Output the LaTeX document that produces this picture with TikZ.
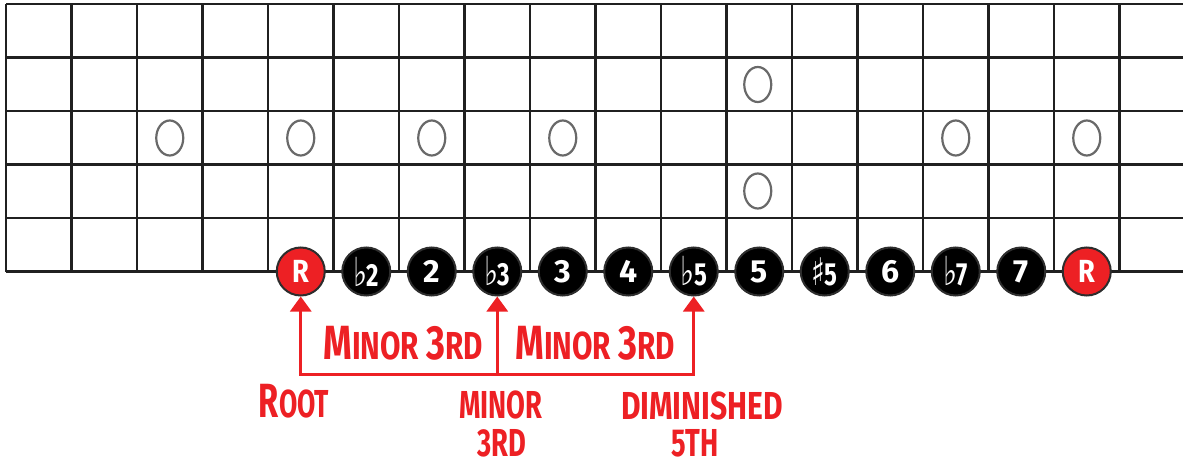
\documentclass[tikz,border=0pt]{standalone}
\usepackage{fontspec}
\usepackage{graphicx}
\setmainfont{Fira Sans}
\newfontfamily\symf{DejaVu Sans}
\usetikzlibrary{arrows.meta,shapes.geometric}
\definecolor{myred}{RGB}{237,32,36}
\definecolor{gridc}{RGB}{32,32,32}
\definecolor{inlayc}{RGB}{105,105,105}
\definecolor{ringc}{RGB}{45,45,45}
\newcommand\fl{{\symf\fontsize{40}{40}\selectfont ♭}}
\newcommand\shp{{\symf\fontsize{38}{38}\selectfont ♯}}
\newcommand\bigc{\fontsize{48}{48}\selectfont}
\newcommand\smlc{\fontsize{39}{39}\selectfont}
\newcommand\sqz[2]{\scalebox{#1}[1]{#2}}
\tikzset{
  gridline/.style={draw=gridc, line width=2.6pt},
  inlay/.style={draw=inlayc, line width=2.2pt, ellipse, minimum width=27pt, minimum height=35pt, inner sep=0pt},
  note/.style={circle, minimum size=48pt, inner sep=0pt, fill=black, draw=ringc, line width=2pt, text=white, font=\fontsize{32}{32}\selectfont\bfseries},
  rootnote/.style={note, fill=myred},
  redline/.style={draw=myred, line width=3pt},
  redtip/.style={-{Triangle[width=21pt,length=15pt]}},
  lab/.style={text=myred, font=\bfseries, inner sep=0pt, align=center}
}
\begin{document}
\begin{tikzpicture}[x=1pt, y=-1pt]
\useasboundingbox (0,0) rectangle (1183,465);
% grid
\foreach \yy in {4,57.5,111,164.5,218,271.5}
  \draw[gridline] (6,\yy) -- (1183,\yy);
\foreach \k in {0,...,17}
  \draw[gridline] ({6+65.5*\k},4) -- ({6+65.5*\k},271.5);
% inlays
\node[inlay] (i3) at (169.75,138) {};
\node[inlay] (i5) at (300.75,138) {};
\node[inlay] (i7) at (431.75,138) {};
\node[inlay] (i9) at (562.75,138) {};
\node[inlay] (i12a) at (757.75,84.5) {};
\node[inlay] (i12b) at (757.75,191) {};
\node[inlay] (i15) at (955.75,138) {};
\node[inlay] (i17) at (1086.75,138) {};
% notes
\node[rootnote] (n0) at (300.75,271.5) {\sqz{0.85}{R}};
\node[note] (n1) at (366.25,271.5) {\sqz{0.75}{\fl\kern-1pt 2}};
\node[note] (n2) at (431.75,271.5) {2};
\node[note] (n3) at (497.25,271.5) {\sqz{0.75}{\fl\kern-1pt 3}};
\node[note] (n4) at (562.75,271.5) {3};
\node[note] (n5) at (628.25,271.5) {4};
\node[note] (n6) at (693.75,271.5) {\sqz{0.75}{\fl\kern-1pt 5}};
\node[note] (n7) at (759.25,271.5) {5};
\node[note] (n8) at (824.75,271.5) {\sqz{0.75}{\shp\kern-1pt 5}};
\node[note] (n9) at (890.25,271.5) {6};
\node[note] (n10) at (955.75,271.5) {\sqz{0.75}{\fl\kern-1pt 7}};
\node[note] (n11) at (1021.25,271.5) {7};
\node[rootnote] (n12) at (1086.75,271.5) {\sqz{0.85}{R}};
% interval bracket
\coordinate (base) at (0,374);
\coordinate (c0) at (n0 |- base);
\coordinate (c3) at (n3 |- base);
\coordinate (c6) at (n6 |- base);
\draw[redline, {Triangle[width=21pt,length=15pt]}-{Triangle[width=21pt,length=15pt]}] (n0.south) |- (c6) -- (n6.south);
\draw[redline, redtip] (c3) -- (n3.south);
% labels
\node[lab] (m1) at (403,343) {\sqz{0.76}{\bigc M\smlc INOR \bigc 3\smlc RD}};
\node[lab] (m2) at (595,343) {\sqz{0.76}{\bigc M\smlc INOR \bigc 3\smlc RD}};
\node[lab] (lroot) at (294,401) {\sqz{0.68}{\bigc R\smlc OOT}};
\node[lab] (lmin) at (501,405) {\sqz{0.7}{\smlc MINOR}};
\node[lab] (lmin2) at (502,443) {\sqz{0.7}{\smlc 3RD}};
\node[lab] (ldim) at (702,406) {\sqz{0.77}{\smlc DIMINISHED}};
\node[lab] (ldim2) at (695,443) {\sqz{0.7}{\smlc 5TH}};
\end{tikzpicture}
\end{document}
